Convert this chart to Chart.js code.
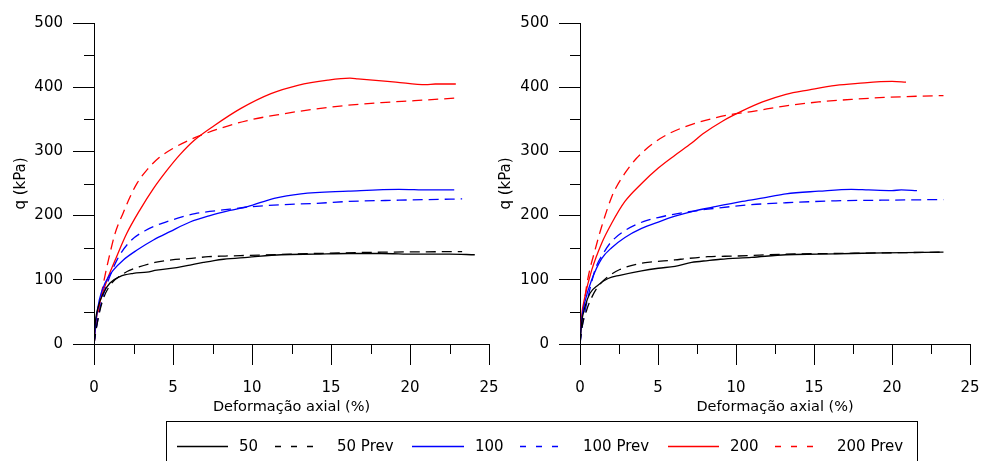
<!DOCTYPE html>
<html><head><meta charset="utf-8">
<script src="https://cdn.jsdelivr.net/npm/chart.js@4"></script>
<style>
body{margin:0;background:#fff;width:982px;height:461px;overflow:hidden;position:relative;font-family:"DejaVu Sans",sans-serif;}
canvas{position:absolute;top:0;}
#c1{left:0}
#c2{left:485px}
#legendBox{position:absolute;left:166px;top:421px;width:752px;height:60px;border:1px solid #000;box-sizing:border-box;}
.lg{position:absolute;top:439px;font-size:15px;line-height:15px;color:#000;white-space:nowrap;}
#lgsvg{position:absolute;left:0;top:0;}
</style></head>
<body>
<canvas id="c1" width="519" height="420"></canvas>
<canvas id="c2" width="515" height="420"></canvas>
<div id="legendBox"></div>
<svg id="lgsvg" width="982" height="461"></svg>
<script>
// ---------- DATA ----------
const seriesLabels = ['50', '50 Prev', '100', '100 Prev', '200', '200 Prev'];
const xAxisTitle = 'Deformação axial (%)';
const yAxisTitle = 'q (kPa)';
const xMin = 0, xMax = 25, xStep = 5;
const yMin = 0, yMax = 500, yStep = 100;

// Left panel
const L50_x = [0, 0.06, 0.27, 0.59, 1.01, 1.64, 2.49, 3.35, 3.97, 5.24, 6.08, 6.92, 7.6, 8.2, 9.72, 11.85, 14.0, 16.1, 18.2, 20.3, 22.5, 24.1];
const L50_q = [0, 28, 58, 79, 95, 105, 110, 112, 115, 119, 123, 127, 130, 132, 135, 139, 140, 141, 141, 140, 140, 139];
const L50P_x = [0, 0.15, 0.49, 0.95, 1.9, 2.85, 3.86, 4.92, 5.97, 7.24, 8.3, 9.72, 14.0, 18.2, 23.3];
const L50P_q = [0, 25, 63, 89, 110, 120, 127, 131, 133, 136, 137, 138, 141, 143, 144];
const L100_x = [0, 0.13, 0.34, 0.7, 1.22, 1.86, 2.7, 3.76, 4.81, 6.08, 7.34, 8.6, 9.72, 11.4, 13.1, 16.1, 19.3, 21.2, 22.8];
const L100_q = [0, 37, 69, 95, 115, 131, 146, 162, 175, 190, 200, 208, 214, 227, 234, 238, 241, 240, 240];
const L100P_x = [0, 0.2, 0.5, 1.0, 1.5, 2.29, 3.2, 4.3, 5.3, 6.4, 7.5, 8.6, 9.6, 11.9, 14.0, 16.1, 19.3, 23.3];
const L100P_q = [0, 32, 68, 105, 133, 160, 176, 188, 196, 203, 207, 210, 213, 217, 219, 222, 224, 226];
const L200_x = [0, 0.17, 0.48, 0.91, 1.43, 2.07, 2.91, 3.76, 4.6, 5.44, 6.33, 7.6, 9.3, 11.2, 12.9, 14.8, 16.2, 16.7, 19.1, 21.0, 21.6, 22.9];
const L200_q = [0, 43, 74, 105, 136, 172, 209, 242, 270, 295, 317, 340, 367, 390, 403, 411, 414, 413, 408, 404, 405, 405];
const L200P_x = [0, 0.2, 0.45, 0.7, 1.0, 1.33, 1.86, 2.28, 2.74, 3.38, 4.11, 5.02, 5.97, 6.54, 8.0, 9.7, 11.85, 14.0, 16.1, 18.2, 20.3, 22.9];
const L200P_q = [0, 35, 75, 107, 140, 172, 205, 229, 251, 272, 290, 305, 317, 323, 336, 348, 358, 366, 372, 376, 379, 383];

// Right panel
const R50_x = [0, 0.1, 0.32, 0.64, 1.17, 1.8, 2.55, 3.95, 5.02, 6.09, 7.16, 8.2, 9.0, 11.0, 13.2, 15.3, 17.4, 19.5, 23.3];
const R50_q = [0, 32, 58, 79, 92, 102, 107, 114, 118, 121, 127, 130, 132, 135, 139, 140, 141, 142, 143];
const R50P_x = [0, 0.1, 0.43, 0.8, 1.17, 1.8, 2.55, 3.95, 4.67, 6.09, 6.8, 8.2, 10.0, 13.2, 16.4, 19.5, 23.3];
const R50P_q = [0, 22, 53, 75, 90, 105, 116, 126, 128, 131, 133, 136, 137, 140, 141, 142, 143];
const R100_x = [0, 0.1, 0.32, 0.75, 1.39, 2.03, 2.88, 3.95, 5.02, 6.09, 7.3, 8.5, 10.4, 12.1, 13.2, 15.3, 17.4, 18.5, 20.0, 20.6, 21.6];
const R100_q = [0, 36, 66, 100, 133, 150, 166, 180, 190, 199, 207, 213, 222, 229, 234, 238, 241, 240, 239, 240, 239];
const R100P_x = [0, 0.15, 0.4, 0.7, 1.0, 1.49, 2.0, 2.97, 4.1, 5.0, 6.0, 7.0, 8.2, 11.0, 13.2, 16.4, 19.5, 23.3];
const R100P_q = [0, 28, 60, 92, 118, 141, 159, 178, 191, 197, 202, 206, 210, 217, 220, 223, 224, 225];
const R200_x = [0, 0.1, 0.32, 0.75, 1.39, 2.03, 2.88, 3.95, 5.02, 6.09, 7.16, 7.86, 9.13, 10.4, 11.7, 13.2, 14.7, 16.4, 17.8, 20.0, 20.9];
const R200_q = [0, 42, 74, 115, 157, 188, 222, 250, 274, 294, 313, 327, 347, 363, 377, 389, 396, 403, 406, 409, 408];
const R200P_x = [0, 0.1, 0.3, 0.53, 0.96, 1.39, 2.03, 2.34, 2.88, 3.61, 4.67, 5.73, 7.43, 9.56, 11.0, 13.2, 15.3, 17.4, 19.5, 21.7, 23.3];
const R200P_q = [0, 30, 70, 105, 146, 183, 229, 245, 266, 289, 312, 328, 344, 357, 362, 371, 377, 381, 384, 386, 387];

// ---------- STYLE ----------
const FONT = '"DejaVu Sans", sans-serif';
const seriesColors = ['#000000', '#000000', '#0000ff', '#0000ff', '#ff0000', '#ff0000'];
const seriesDashed = [false, true, false, true, false, true];

function pts(xs, ys) { return xs.map((x, i) => ({ x: x, y: ys[i] })); }

const minorTicks = {
  id: 'minorTicks',
  afterDraw(chart) {
    const ctx = chart.ctx, xs = chart.scales.x, ys = chart.scales.y;
    ctx.save();
    ctx.strokeStyle = '#000';
    ctx.lineWidth = 1;
    ctx.beginPath();
    const xt = xs.ticks.map(t => t.value);
    for (let i = 0; i < xt.length - 1; i++) {
      const p = Math.round(xs.getPixelForValue((xt[i] + xt[i + 1]) / 2)) + 0.5;
      ctx.moveTo(p, ys.bottom); ctx.lineTo(p, ys.bottom + 10);
    }
    const yt = ys.ticks.map(t => t.value);
    for (let i = 0; i < yt.length - 1; i++) {
      const p = Math.round(ys.getPixelForValue((yt[i] + yt[i + 1]) / 2)) + 0.5;
      ctx.moveTo(xs.left, p); ctx.lineTo(xs.left - 10, p);
    }
    ctx.stroke();
    ctx.restore();
  }
};

function makeChart(id, series, yWidth, padRight) {
  const ctx = document.getElementById(id).getContext('2d');
  return new Chart(ctx, {
    type: 'scatter',
    data: {
      datasets: series.map((s, i) => ({
        label: seriesLabels[i],
        data: pts(s[0], s[1]),
        showLine: true,
        borderColor: seriesColors[i],
        backgroundColor: seriesColors[i],
        borderWidth: 1.3,
        borderDash: seriesDashed[i] ? [10, 6] : [],
        pointRadius: 0,
        cubicInterpolationMode: 'monotone',
        fill: false
      }))
    },
    options: {
      responsive: false,
      animation: false,
      devicePixelRatio: 1,
      layout: { padding: { top: 23, right: padRight, left: 0, bottom: 0 } },
      plugins: { legend: { display: false }, tooltip: { enabled: false } },
      scales: {
        x: {
          type: 'linear', min: xMin, max: xMax,
          ticks: { stepSize: xStep, padding: 14, color: '#000', font: { family: FONT, size: 15 }, maxRotation: 0, autoSkip: false },
          grid: { drawOnChartArea: false, drawTicks: true, tickLength: 21, tickColor: '#000', color: '#000', lineWidth: 1 },
          border: { display: true, color: '#000', width: 1 },
          title: { display: true, text: xAxisTitle, color: '#000', font: { family: FONT, size: 14.5 }, padding: { top: 0, bottom: 4 } },
          afterFit: s => { s.height = 76; }
        },
        y: {
          type: 'linear', min: yMin, max: yMax,
          ticks: { stepSize: yStep, padding: 10, color: '#000', font: { family: FONT, size: 15 } },
          grid: { drawOnChartArea: false, drawTicks: true, tickLength: 21, tickColor: '#000', color: '#000', lineWidth: 1 },
          border: { display: true, color: '#000', width: 1 },
          title: { display: true, text: yAxisTitle, color: '#000', font: { family: FONT, size: 15 }, padding: { top: 12, bottom: 0 } },
          afterFit: s => { s.width = yWidth; }
        }
      }
    },
    plugins: [minorTicks]
  });
}

makeChart('c1', [[L50_x, L50_q], [L50P_x, L50P_q], [L100_x, L100_q], [L100P_x, L100P_q], [L200_x, L200_q], [L200P_x, L200P_q]], 94, 30);
makeChart('c2', [[R50_x, R50_q], [R50P_x, R50P_q], [R100_x, R100_q], [R100P_x, R100P_q], [R200_x, R200_q], [R200P_x, R200P_q]], 95, 30);

// ---------- LEGEND ----------
const lineStarts = [177, 275, 412, 520, 668, 775];
const lineEnds = [228, 313, 464, 563, 719, 819];
const textStarts = [239, 337, 475, 583, 730, 837];
const svg = document.getElementById('lgsvg');
const NS = 'http://www.w3.org/2000/svg';
seriesLabels.forEach((lab, i) => {
  const ln = document.createElementNS(NS, 'line');
  ln.setAttribute('x1', lineStarts[i]); ln.setAttribute('x2', lineEnds[i]);
  ln.setAttribute('y1', 446.5); ln.setAttribute('y2', 446.5);
  ln.setAttribute('stroke', seriesColors[i]); ln.setAttribute('stroke-width', 1.3);
  if (seriesDashed[i]) ln.setAttribute('stroke-dasharray', '6 10');
  svg.appendChild(ln);
  const sp = document.createElement('span');
  sp.className = 'lg'; sp.textContent = lab; sp.style.left = textStarts[i] + 'px';
  document.body.appendChild(sp);
});
</script>
</body></html>
